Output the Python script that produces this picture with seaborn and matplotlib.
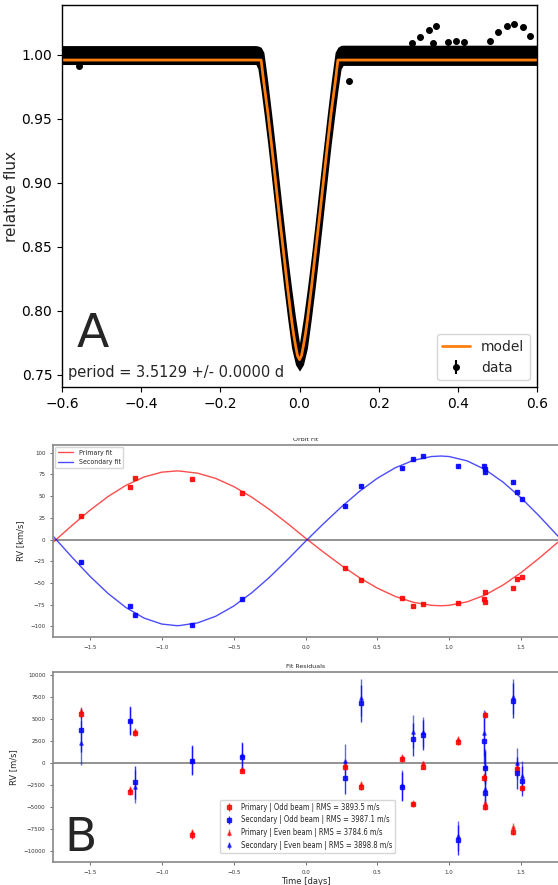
import numpy as np
import seaborn as sns
import matplotlib
matplotlib.use("Agg")
import matplotlib.pyplot as plt
from matplotlib.patches import Rectangle
from matplotlib.ticker import MultipleLocator

# ---------------- panel A: folded light curve ----------------
model_t = [-0.6, -0.097, -0.09, -0.08, -0.07, -0.06, -0.05, -0.04, -0.03, -0.02, -0.015,
           -0.01, -0.005, 0.0, 0.005, 0.01, 0.015, 0.02, 0.03, 0.04, 0.05, 0.06, 0.07,
           0.08, 0.09, 0.097, 0.6]
model_flux = [0.996, 0.996, 0.978, 0.955, 0.928, 0.900, 0.872, 0.845, 0.818, 0.793, 0.782,
              0.773, 0.765, 0.762, 0.765, 0.773, 0.782, 0.793, 0.818, 0.845, 0.872, 0.900,
              0.928, 0.955, 0.978, 0.996, 0.996]

# envelope of the dense cloud of data points
band_t = [-0.6, -0.11, -0.105, -0.097, -0.09, -0.08, -0.07, -0.06, -0.05, -0.04, -0.03,
          -0.02, -0.01, 0.0, 0.01, 0.02, 0.03, 0.04, 0.05, 0.06, 0.07, 0.08, 0.09, 0.097,
          0.105, 0.11, 0.6]
band_lo = [0.9925, 0.9925, 0.989, 0.972, 0.955, 0.930, 0.902, 0.874, 0.846, 0.819, 0.794,
           0.771, 0.758, 0.753, 0.758, 0.771, 0.794, 0.819, 0.846, 0.874, 0.902, 0.930,
           0.955, 0.972, 0.989, 0.9918, 0.9918]
band_hi = [1.0073, 1.0073, 1.0070, 1.006, 1.002, 0.979, 0.953, 0.926, 0.898, 0.870, 0.843,
           0.818, 0.795, 0.775, 0.795, 0.818, 0.843, 0.870, 0.898, 0.926, 0.953, 0.979,
           1.002, 1.006, 1.0075, 1.0076, 1.0076]

outlier_t = [-0.556, 0.124, 0.285, 0.305, 0.326, 0.336, 0.345, 0.374, 0.395, 0.416,
             0.482, 0.502, 0.523, 0.542, 0.564, 0.583]
outlier_flux = [0.991, 0.980, 1.0096, 1.0138, 1.0195, 1.0094, 1.0223, 1.0102, 1.0106,
                1.0102, 1.0106, 1.0177, 1.0229, 1.0242, 1.0216, 1.0148]

period_text = "period = 3.5129 +/- 0.0000 d"

# ---------------- panel B: orbit fit and residuals ----------------
fit_t = [-1.7565, -1.75, -1.625, -1.5, -1.375, -1.25, -1.125, -1.0, -0.898, -0.875, -0.75,
         -0.625, -0.5, -0.375, -0.25, -0.125, 0.0, 0.125, 0.25, 0.375, 0.5, 0.625, 0.75,
         0.875, 0.942, 1.0, 1.125, 1.25, 1.375, 1.5, 1.625, 1.75, 1.7565]
fit_primary = [-3.1, -2.2, 16.2, 33.7, 49.4, 62.4, 72.0, 77.6, 79.0, 78.9, 76.4, 70.4, 61.1,
               48.9, 34.5, 18.5, 1.6, -14.5, -29.9, -43.9, -56.0, -65.6, -72.3, -75.8,
               -76.3, -75.8, -71.8, -63.9, -52.4, -38.1, -21.6, -4.0, -3.1]
fit_secondary = [3.9, 2.7, -20.3, -42.3, -62.0, -78.3, -90.4, -97.4, -99.2, -99.1, -96.0,
                 -88.4, -76.7, -61.5, -43.4, -23.2, -2.1, 18.2, 37.6, 55.4, 70.6, 82.7,
                 91.2, 95.6, 96.2, 95.6, 90.6, 80.6, 66.1, 48.0, 27.3, 5.1, 3.9]

obs_t = [-1.5625, -1.22, -1.185, -0.79, -0.442, 0.273, 0.389, 0.669, 0.75, 0.819, 1.058,
         1.243, 1.248, 1.252, 1.444, 1.474, 1.509]
rv_primary = [26.8, 60.9, 70.5, 69.3, 53.7, -33.0, -47.1, -67.4, -77.0, -74.7, -72.8,
              -68.2, -71.6, -60.5, -55.6, -45.2, -43.3]
rv_secondary = [-25.7, -76.6, -87.4, -98.0, -69.0, 38.7, 62.0, 82.0, 92.7, 96.2, 84.7,
                84.7, 81.2, 77.4, 66.3, 54.4, 46.7]

res_primary_odd = [5530, -3260, 3370, -8180, -870, -400, -2690, 420, -4700, -420, 2390,
                   -1740, -4960, 5450, -7800, -720, -2880]
res_secondary_odd = [3750, 4810, -2200, 265, 720, -1650, 6780, -2690, 2690, 3180, -8750,
                     2540, -3450, -530, 7080, -1170, -2000]
res_primary_even = [5950, -3000, 3680, -7880, -700, -250, -2400, 720, -4510, -40, 2690,
                    -1500, -4510, 5600, -7240, -400, -2690]
res_secondary_even = [2240, 4900, -2690, 380, 890, 230, 7420, -2500, 3560, 3560, -8300,
                      3370, -3000, -300, 7540, -40, -1480]
err_primary = [400, 350, 350, 400, 300, 350, 350, 350, 300, 300, 350, 350, 400, 350,
               400, 350, 350]
err_secondary = [2500, 1600, 1900, 1650, 1550, 1900, 2100, 1650, 1900, 1700, 1750, 2600,
                 1800, 1900, 2000, 1800, 1700]

res_labels = ["Primary | Odd beam | RMS = 3893.5 m/s",
              "Secondary | Odd beam | RMS = 3987.1 m/s",
              "Primary | Even beam | RMS = 3784.6 m/s",
              "Secondary | Even beam | RMS = 3898.8 m/s"]

sns.set_style("ticks")
plt.rcParams["font.family"] = ["DejaVu Sans"]

fig = plt.figure(figsize=(5.58, 8.85), dpi=100)
W, H = 558.0, 885.0


def box(left, top, right, bottom):
    return [left / W, 1 - bottom / H, (right - left) / W, (bottom - top) / H]


# ---- A ----
ax1 = fig.add_axes(box(62, 5, 537, 387))
ax1.fill_between(band_t, band_lo, band_hi, color="black", lw=0)
sns.lineplot(x=model_t, y=model_flux, ax=ax1, color="tab:orange", lw=2,
             label="model", sort=False)
ax1.errorbar(outlier_t, outlier_flux, yerr=0.0012, fmt="o", color="black", ms=4,
             label="data")
ax1.set_xlim(-0.6, 0.6)
ax1.set_ylim(0.7406, 1.039)
ax1.yaxis.set_major_locator(MultipleLocator(0.05))
ax1.xaxis.set_major_locator(MultipleLocator(0.2))
ax1.tick_params(labelsize=10, length=3.5, width=0.8, colors="black")
for s in ax1.spines.values():
    s.set_color("black")
    s.set_linewidth(1)
ax1.set_xlabel("time since transit [days]", fontsize=10.5, labelpad=3)
ax1.set_ylabel("relative flux", fontsize=11, labelpad=2)
ax1.legend(loc="lower right", fontsize=10)
ax1.text(0.013, 0.027, period_text, transform=ax1.transAxes, fontsize=10.5)
ax1.text(0.03, 0.105, "A", transform=ax1.transAxes, fontsize=34)

xlim_b = (-1.757, 1.757)
cond = dict(family="DejaVu Sans", stretch="condensed")

# ---- orbit fit ----
ax2 = fig.add_axes(box(53, 445, 558, 637))
ax2.axhline(0, color="gray", lw=1.2)
sns.lineplot(x=fit_t, y=fit_primary, ax=ax2, color="red", alpha=0.7, lw=1,
             label="Primary fit", sort=False)
sns.lineplot(x=fit_t, y=fit_secondary, ax=ax2, color="blue", alpha=0.7, lw=1,
             label="Secondary fit", sort=False)
ax2.errorbar(obs_t, rv_primary, yerr=np.array(err_primary) / 1000, fmt="s",
             color="red", ms=2.3, elinewidth=1, alpha=0.85)
ax2.errorbar(obs_t, rv_secondary, yerr=np.array(err_secondary) / 1000, fmt="s",
             color="blue", ms=2.3, elinewidth=1, alpha=0.85)
ax2.set_xlim(*xlim_b)
ax2.set_ylim(-112.3, 108.9)
ax2.yaxis.set_major_locator(MultipleLocator(25))
ax2.xaxis.set_major_locator(MultipleLocator(0.5))
ax2.set_ylabel("RV [km/s]", fontsize=6, labelpad=4)
ax2.set_title("Orbit Fit", fontsize=4.5, pad=3)
ax2.legend(loc="upper left", prop=dict(size=5, **cond), handlelength=2.2,
           borderaxespad=0.3)

# ---- residuals ----
ax3 = fig.add_axes(box(53, 672, 558, 862))
ax3.axhline(0, color="gray", lw=1.2)
ax3.errorbar(obs_t, res_primary_odd, yerr=err_primary, fmt="s", color="red", ms=2.5,
             elinewidth=1, alpha=0.8, label=res_labels[0])
ax3.errorbar(obs_t, res_secondary_odd, yerr=err_secondary, fmt="s", color="blue", ms=2.5,
             elinewidth=1, alpha=0.8, label=res_labels[1])
ax3.errorbar(obs_t, res_primary_even, yerr=err_primary, fmt="^", color="red", ms=2.5,
             elinewidth=1, alpha=0.6, label=res_labels[2])
ax3.errorbar(obs_t, res_secondary_even, yerr=err_secondary, fmt="^", color="blue",
             ms=2.5, elinewidth=1, alpha=0.6, label=res_labels[3])
ax3.set_xlim(*xlim_b)
ax3.set_ylim(-11250, 10340)
ax3.yaxis.set_major_locator(MultipleLocator(2500))
ax3.xaxis.set_major_locator(MultipleLocator(0.5))
ax3.set_ylabel("RV [m/s]", fontsize=6, labelpad=4)
ax3.set_xlabel("Time [days]", fontsize=6, labelpad=2)
ax3.set_title("Fit Residuals", fontsize=4.5, pad=3)
ax3.legend(loc="lower left", bbox_to_anchor=(0.331, 0.047), borderaxespad=0,
           prop=dict(size=5.5, **cond), handlelength=1.5)
ax3.text(0.022, 0.06, "B", transform=ax3.transAxes, fontsize=34)

for ax in (ax2, ax3):
    ax.tick_params(labelsize=4, length=2, width=0.6, colors="#555555",
                   labelcolor="#333333")
    for s in ax.spines.values():
        s.set_color("#888888")
        s.set_linewidth(1.2)
    ax.spines["right"].set_visible(False)

# the top panel sits over the upper half of the orbit-fit title
fig.add_artist(Rectangle((0, 1 - 438.0 / H), 1, 24 / H, transform=fig.transFigure,
                         facecolor="white", edgecolor="none", zorder=5))

fig.savefig("out.png", dpi=100)
